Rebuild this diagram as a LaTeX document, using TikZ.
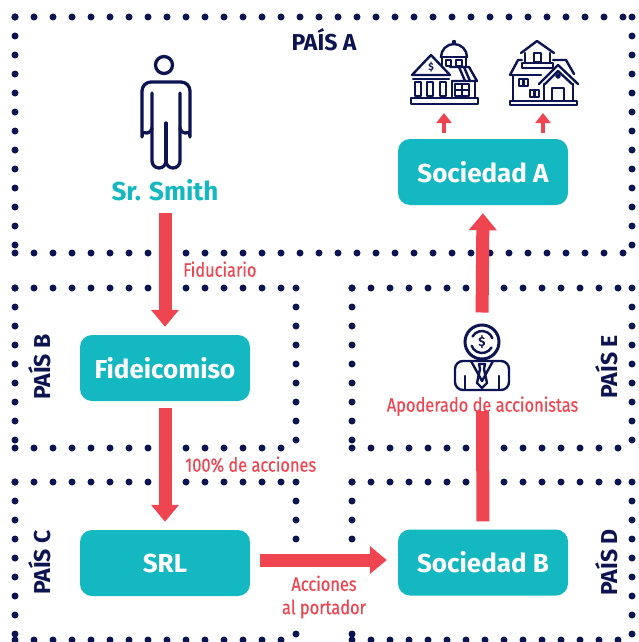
\documentclass[tikz,border=0pt]{standalone}
\usepackage{fontspec}
\setmainfont{Fira Sans}
\newfontfamily\condfont[FakeStretch=0.84, FakeBold=0.4]{Fira Sans}
\usetikzlibrary{arrows.meta}
\definecolor{navyc}{HTML}{0D1452}
\definecolor{tealc}{HTML}{13B8C0}
\definecolor{redc}{HTML}{EF4550}
\tikzset{
  dotline/.style={navyc, line width=7pt, line cap=round, dash pattern=on 0pt off 19pt},
  box/.style={fill=tealc, rounded corners=12pt, minimum width=170pt, minimum height=66pt,
    text=white, font=\bfseries\fontsize{26}{30}\selectfont, inner sep=0pt},
  pais/.style={text=navyc, font=\bfseries\fontsize{23}{26}\selectfont, inner sep=0pt},
  lab/.style={text=redc, font=\condfont\fontsize{19.5}{23.3}\selectfont, inner sep=2pt},
  bigarrow/.style={redc, line width=13pt, -{Triangle[length=17pt,width=27pt]}},
  bigbar/.style={redc, line width=13pt},
  smallarrow/.style={redc, line width=4pt, -{Triangle[length=10pt,width=15pt]}},
  icon/.style={navyc, line width=3.3pt, line join=round, line cap=round},
}
\begin{document}
\begin{tikzpicture}[x=1pt,y=-1pt]
\useasboundingbox (0,0) rectangle (638,642);
% ---- dotted country borders ----
% A
\draw[dotline] (15,17) -- (632,17);
\draw[dotline] (15,17) -- (15,253);
\draw[dotline] (632,17) -- (632,253);
\draw[dotline] (15,253) -- (632,253);
% B
\draw[dotline] (15,288) -- (296,288);
\draw[dotline] (15,288) -- (15,448);
\draw[dotline] (296,288) -- (296,448);
\draw[dotline] (15,448) -- (296,448);
% E
\draw[dotline] (352,288) -- (632,288);
\draw[dotline] (352,288) -- (352,448);
\draw[dotline] (632,288) -- (632,448);
\draw[dotline] (352,448) -- (632,448);
% C
\draw[dotline] (15,482) -- (296,482);
\draw[dotline] (15,482) -- (15,640);
\draw[dotline] (296,482) -- (296,640);
\draw[dotline] (15,640) -- (296,640);
% D
\draw[dotline] (352,482) -- (632,482);
\draw[dotline] (352,482) -- (352,640);
\draw[dotline] (632,482) -- (632,640);
\draw[dotline] (352,640) -- (632,640);

% ---- country labels ----
\node[pais, anchor=base] (pa) at (324,51) {PAÍS A};
\node[pais, anchor=base, rotate=90] (pb) at (50.5,367) {PAÍS B};
\node[pais, anchor=base, rotate=90] (pc) at (50.5,562.5) {PAÍS C};
\node[pais, anchor=base, rotate=90] (pe) at (617,367) {PAÍS E};
\node[pais, anchor=base, rotate=90] (pd) at (617,562.5) {PAÍS D};

% ---- boxes ----
\node[box] (sa) at (483,172) {Sociedad A};
\node[box] (fid) at (165,368) {Fideicomiso};
\node[box] (srl) at (165,563) {SRL};
\node[box] (sb) at (483,562.5) {Sociedad B};

% ---- Sr. Smith ----
\begin{scope}[icon]
\draw (164,65) circle (8.5);
\draw (152,93) -- (152,161) arc[start angle=180,end angle=0,radius=7]
      arc[start angle=180,end angle=0,radius=7] -- (180,93);
\draw (166,123) -- (166,161);
\draw[rounded corners=9pt] (152,128) arc[start angle=0,end angle=180,radius=5]
      -- (142,82) -- (190,82) -- (190,128) arc[start angle=0,end angle=180,radius=5];
\end{scope}
\node[text=tealc, font=\bfseries\fontsize{26}{30}\selectfont, anchor=base, inner sep=0pt] (smith) at (165,200) {Sr. Smith};

% ---- bank icon ----
\begin{scope}[icon, line width=2.4pt]
\draw (441,57) arc[start angle=180,end angle=360,radius=13];
\fill (454,42) circle (2.2);
\draw (441,57) -- (467,57);
\draw (442,57) -- (442,67);
\draw (466,57) -- (466,67);
\draw (446,60) rectangle (451,66);
\draw (456,60) rectangle (462,66);
\draw (450,67) -- (469,67) -- (477,81) -- (452,81);
\draw (459,67) -- (465,81);
\draw (464,67) -- (470,81);
\draw (452,81) -- (452,97);
\draw (475,81) -- (475,97);
\draw (455,84) rectangle (469,96);
\draw (462,84) -- (462,96);
\draw (455,90) -- (469,90);
\draw[fill=white] (412,75) -- (431,55) -- (450,75) -- cycle;
\node[text=navyc, font=\bfseries\fontsize{10}{10}\selectfont, inner sep=0pt] (dollar1) at (431,67) {\$};
\draw (413,79) -- (449,79);
\draw (415,82) rectangle (421,96);
\draw (427,82) rectangle (433,96);
\draw (440,82) rectangle (446,96);
\draw (411,98) rectangle (478,104);
\end{scope}
\coordinate (bankb) at (444,106);

% ---- house icon ----
\begin{scope}[icon, line width=2.4pt]
\draw (521,53) -- (537,41) -- (554,53);
\draw (525,53) -- (525,63);
\draw (550,53) -- (550,63);
\draw (534,53) rectangle (541,62);
\draw (522,63) rectangle (553,68);
\draw (510,75) -- (518,60) -- (522,60);
\draw (553,60) -- (566,60) -- (574,74);
\draw (510,75) -- (541,75);
\draw (513,75) -- (513,101);
\fill[white] (539,84) -- (558,65) -- (578,84) -- cycle;
\draw (539,84) -- (558,65) -- (578,84);
\draw (545,84) -- (558,71) -- (572,84);
\draw (558,76) circle (1.8);
\draw (544,84) -- (544,101);
\draw (573,84) -- (573,101);
\draw (552,88) rectangle (564,101);
\draw (519,79) rectangle (528,86);
\draw (523.5,79) -- (523.5,86);
\draw (530,90) rectangle (539,97);
\draw (534.5,90) -- (534.5,97);
\draw (510,101) rectangle (577,105);
\end{scope}
\coordinate (houseb) at (543,106);

% ---- businessman icon ----
\node[circle, draw=navyc, line width=3pt, minimum size=34pt, inner sep=0pt] (coin) at (482,342) {};
\begin{scope}[icon, line width=2.4pt]
\draw ([shift={(30:11)}]coin.center) arc[start angle=30,end angle=160,radius=11];
\draw ([shift={(210:11)}]coin.center) arc[start angle=210,end angle=340,radius=11];
\draw[rounded corners=8pt] (455,390) -- (455,361) -- (509,361) -- (509,390) -- cycle;
\draw (471,361) -- (482,381) -- (493,361);
\draw (479,364) -- (485,364) -- (484,369) -- (487,383) -- (482,388) -- (477,383) -- (480,369) -- cycle;
\draw (465,376) -- (465,390);
\draw (499,376) -- (499,390);
\end{scope}
\node[text=navyc, font=\bfseries\fontsize{13}{13}\selectfont, inner sep=0pt] (dollar2) at (coin.center) {\$};

% ---- labels ----
\node[lab, anchor=base west, inner sep=0pt] (fidu) at (183,276.7) {Fiduciario};
\node[lab, anchor=base west, inner sep=0pt] (cien) at (185,471.7) {100\% de acciones};
\node[lab, anchor=base, inner sep=0pt] (apod) at (482.5,411.7) {Apoderado de accionistas};
\node[lab, fill=white, align=center, inner sep=3pt] (acc) at (324,597) {Acciones\\al portador};

% ---- connectors ----
\draw[bigarrow, shorten <=13pt, shorten >=8pt] (smith.base) -- (fid.north);
\draw[bigarrow, shorten <=7pt, shorten >=8pt] (fid.south) -- (srl.north);
\draw[bigarrow, shorten <=10pt, shorten >=11pt] ([yshift=3pt]srl.east) -- ([yshift=3pt]srl.east -| sb.west);
\draw[bigbar, shorten <=8pt, shorten >=-5pt] (sb.north) -- (apod.south);
\draw[bigarrow, shorten <=11pt, shorten >=8pt] (coin.north) -- (sa.south);
\draw[smallarrow, shorten <=6pt, shorten >=7pt] (sa.north -| bankb) -- (bankb);
\draw[smallarrow, shorten <=6pt, shorten >=7pt] (sa.north -| houseb) -- (houseb);
\end{tikzpicture}
\end{document}
